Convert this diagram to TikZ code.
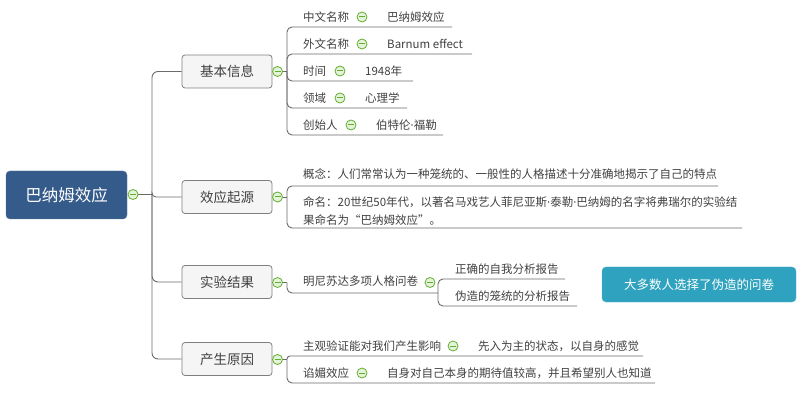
\documentclass[tikz,border=0pt]{standalone}
\usepackage{fontspec}
\setmainfont{Noto Sans CJK SC}
\newfontfamily\dotfont{Noto Sans}
\newcommand{\mydot}{{\dotfont ·}}
\definecolor{rootblue}{HTML}{355B8A}
\definecolor{calloutblue}{HTML}{2EA2BE}
\definecolor{linegray}{HTML}{6A6A6A}
\definecolor{boxborder}{HTML}{7F7F7F}
\definecolor{boxfill}{HTML}{F5F5F5}
\definecolor{txtgray}{HTML}{404040}
\definecolor{foldgreen}{HTML}{5FAE2E}
\definecolor{foldfill}{HTML}{E6F3DA}
\begin{document}
\begin{tikzpicture}[x=1pt,y=-1pt,
  conn/.style={draw=linegray,line width=0.9pt},
  leaf/.style={anchor=west,inner sep=0pt,text=txtgray,font=\fontsize{11.5}{18}\selectfont,align=left},
  lonebox/.style={rectangle,rounded corners=3pt,draw=boxborder,line width=0.8pt,fill=boxfill,
    minimum width=90pt,minimum height=33pt,inner sep=0pt,text=txtgray,font=\fontsize{13.5}{15}\selectfont},
  rootbox/.style={rectangle,rounded corners=4pt,fill=rootblue,draw=rootblue!85!white,
    minimum width=121pt,minimum height=48pt,inner sep=0pt,text=white,font=\fontsize{16.5}{18}\selectfont},
  calloutbox/.style={rectangle,rounded corners=4pt,fill=calloutblue,draw=calloutblue!80!white,
    minimum width=194pt,minimum height=35pt,inner sep=0pt,text=white,font=\fontsize{12.5}{15}\selectfont},
  fold/.style={circle,draw=foldgreen,fill=foldfill,line width=0.8pt,minimum size=10pt,inner sep=0pt,
    path picture={\draw[foldgreen,line width=1pt]
      ([xshift=-3pt]path picture bounding box.center) -- ([xshift=3pt]path picture bounding box.center);}}
]
\useasboundingbox (0,0) rectangle (800,403);

% root
\node[rootbox] (root) at (66.5,195) {巴纳姆效应};
\node[fold] (f0) at (133,194.5) {};
\coordinate (t0) at (152,194.5);

% level 1
\node[lonebox] (b1) at (227,71.5) {基本信息};
\node[lonebox] (b2) at (227,197) {效应起源};
\node[lonebox] (b3) at (227,282) {实验结果};
\node[lonebox] (b4) at (227,359) {产生原因};

\draw[conn] (f0) -- (t0);
\draw[conn,rounded corners=6pt] (t0) |- (b1);
\draw[conn,rounded corners=4pt] (t0) |- (b2);
\draw[conn,rounded corners=6pt] (t0) |- (b3);
\draw[conn,rounded corners=6pt] (t0) |- (b4);

\node[fold] (f1) at (277.5,71.5) {};
\node[fold] (f2) at (277.5,197) {};
\node[fold] (f3) at (277.5,282.5) {};
\node[fold] (f4) at (277.5,359.5) {};

% group 1
\coordinate (p1) at (287,71.5);
\coordinate (e11) at (452,27);
\coordinate (e12) at (472,54);
\coordinate (e13) at (413,81);
\coordinate (e14) at (407,108);
\coordinate (e15) at (443,135);
\draw[conn] (f1) -- (p1);
\foreach \e in {e11,e12,e13,e14,e15}{\draw[conn,rounded corners=5pt] (p1) |- (\e);}

\node[leaf] (n11) at (303,17) {中文名称};
\node[fold] (g11) at (362,17) {};
\node[leaf] (v11) at (387,17) {巴纳姆效应};
\node[leaf] (n12) at (303,44) {外文名称};
\node[fold] (g12) at (362,44) {};
\node[leaf] (v12) at (387,44) {Barnum effect};
\node[leaf] (n13) at (303,71) {时间};
\node[fold] (g13) at (340,71) {};
\node[leaf] (v13) at (365,71) {1948年};
\node[leaf] (n14) at (303,98) {领域};
\node[fold] (g14) at (340,98) {};
\node[leaf] (v14) at (365,98) {心理学};
\node[leaf] (n15) at (303,125) {创始人};
\node[fold] (g15) at (351,125) {};
\node[leaf] (v15) at (376,125) {伯特伦\mydot 福勒};

% group 2
\coordinate (p2) at (287,197);
\coordinate (e21) at (718,186);
\coordinate (e22) at (742,228);
\draw[conn] (f2) -- (p2);
\draw[conn,rounded corners=5pt] (p2) |- (e21);
\draw[conn,rounded corners=5pt] (p2) |- (e22);
\node[leaf] (n21) at (303,174.5) {概念：人们常常认为一种笼统的、一般性的人格描述十分准确地揭示了自己的特点};
\node[leaf] (n22) at (303,211.5) {命名：20世纪50年代，以著名马戏艺人菲尼亚斯\mydot 泰勒\mydot 巴纳姆的名字将弗瑞尔的实验结\\果命名为“巴纳姆效应”。};

% group 3
\coordinate (p3) at (287,282.5);
\coordinate (e31) at (438,293);
\draw[conn] (f3) -- (p3);
\draw[conn,rounded corners=5pt] (p3) |- (e31);
\node[leaf] (n31) at (303,281.5) {明尼苏达多项人格问卷};
\node[fold] (f31) at (430,282.5) {};
\coordinate (e32) at (565,279);
\coordinate (e33) at (577,306);
\draw[conn,rounded corners=5pt] (e31) |- (e32);
\draw[conn,rounded corners=5pt] (e31) |- (e33);
\node[leaf] (n32) at (455,269.5) {正确的自我分析报告};
\node[leaf] (n33) at (455,296.5) {伪造的笼统的分析报告};
\node[calloutbox] (cb) at (699,284.5) {大多数人选择了伪造的问卷};

% group 4
\coordinate (p4) at (287,359.5);
\coordinate (e41) at (643,356);
\coordinate (e42) at (655,383);
\draw[conn] (f4) -- (p4);
\draw[conn,rounded corners=3pt] (p4) |- (e41);
\draw[conn,rounded corners=5pt] (p4) |- (e42);
\node[leaf] (n41) at (303,346) {主观验证能对我们产生影响};
\node[fold] (g41) at (453,346) {};
\node[leaf] (v41) at (478,346) {先入为主的状态，以自身的感觉};
\node[leaf] (n42) at (303,373) {谄媚效应};
\node[fold] (g42) at (362,373) {};
\node[leaf] (v42) at (387,373) {自身对自己本身的期待值较高，并且希望别人也知道};
\end{tikzpicture}
\end{document}
